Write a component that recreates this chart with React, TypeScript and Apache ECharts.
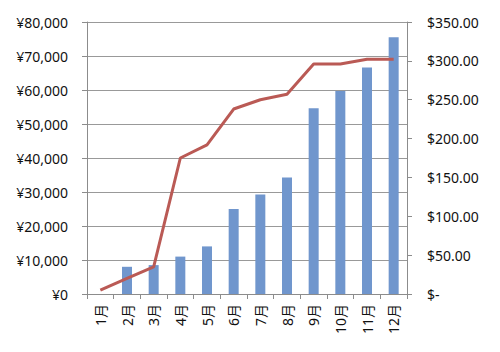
import React, { useEffect, useRef } from "react";
import * as echarts from "echarts";

const months = ["1月", "2月", "3月", "4月", "5月", "6月", "7月", "8月", "9月", "10月", "11月", "12月"];
const yenValues = [0, 8000, 8500, 11000, 14000, 25000, 29300, 34300, 54600, 59700, 66600, 75500];
const dollarValues = [5, 20, 35, 175, 192, 238, 250, 257, 296, 296, 302, 302];

const FONT = "'Noto Sans', 'Noto Sans CJK JP', sans-serif";

export default function App() {
  const ref = useRef<HTMLDivElement>(null);
  useEffect(() => {
    if (!ref.current) return;
    const chart = echarts.init(ref.current, null, { renderer: "svg" });
    chart.setOption({
      animation: false,
      backgroundColor: "#fff",
      textStyle: { fontFamily: FONT },
      grid: { left: 87, right: 93, top: 22, bottom: 58, containLabel: false },
      xAxis: {
        type: "category",
        data: months,
        boundaryGap: true,
        axisLine: { lineStyle: { color: "#8c8c8c", width: 1 } },
        axisTick: { show: true, alignWithLabel: false, length: 5, lineStyle: { color: "#8c8c8c" } },
        axisLabel: { rotate: 90, color: "#111", fontSize: 14, margin: 10, fontFamily: FONT, interval: 0 },
      },
      yAxis: [
        {
          type: "value",
          min: 0,
          max: 80000,
          interval: 10000,
          position: "left",
          axisLine: { show: true, lineStyle: { color: "#8c8c8c" } },
          axisTick: { show: true, length: 5, lineStyle: { color: "#8c8c8c" } },
          splitLine: { show: true, lineStyle: { color: "#999", width: 1 } },
          axisLabel: {
            color: "#111",
            fontSize: 14,
            margin: 19,
            fontFamily: FONT,
            formatter: (v: number) => "¥" + v.toLocaleString("en-US"),
          },
        },
        {
          type: "value",
          min: 0,
          max: 350,
          interval: 50,
          position: "right",
          axisLine: { show: true, lineStyle: { color: "#8c8c8c" } },
          axisTick: { show: true, length: 5, lineStyle: { color: "#8c8c8c" } },
          splitLine: { show: false },
          axisLabel: {
            color: "#111",
            fontSize: 14,
            margin: 20,
            fontFamily: FONT,
            formatter: (v: number) => (v === 0 ? "$-" : "$" + v.toFixed(2)),
          },
        },
      ],
      series: [
        {
          type: "bar",
          data: yenValues,
          yAxisIndex: 0,
          barWidth: 10,
          itemStyle: { color: "#7096CD" },
        },
        {
          type: "line",
          data: dollarValues,
          yAxisIndex: 1,
          symbol: "none",
          lineStyle: { color: "#BA5A55", width: 3 },
          itemStyle: { color: "#BA5A55" },
        },
      ],
    });
    return () => chart.dispose();
  }, []);
  return <div ref={ref} style={{ width: 500, height: 352, margin: -8 }} />;
}
